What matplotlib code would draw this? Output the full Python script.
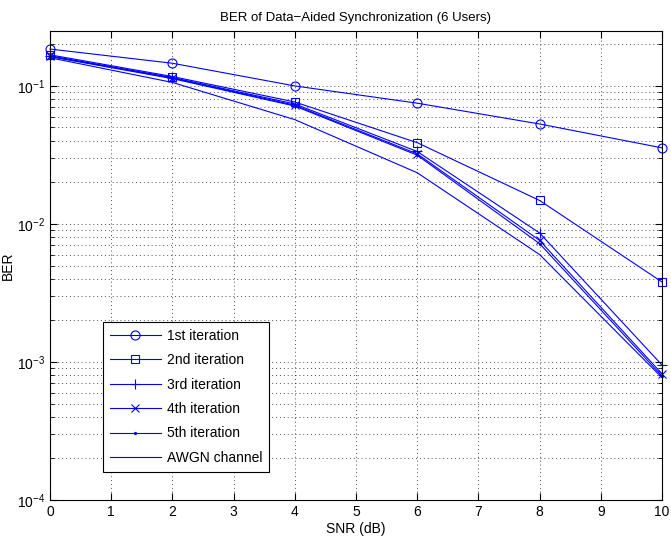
import numpy as np
import matplotlib
matplotlib.use("Agg")
from matplotlib import pyplot as plt
from matplotlib.ticker import LogLocator, NullFormatter

plt.rcParams['font.family'] = ['Liberation Sans', 'DejaVu Sans']
plt.rcParams['mathtext.fontset'] = 'custom'
plt.rcParams['mathtext.rm'] = 'Liberation Sans'
plt.rcParams['mathtext.it'] = 'Liberation Sans'

snr = [0, 2, 4, 6, 8, 10]
ber_iter1 = [0.185, 0.146, 0.100, 0.075, 0.053, 0.0356]
ber_iter2 = [0.168, 0.117, 0.0765, 0.0388, 0.0148, 0.0038]
ber_iter3 = [0.165, 0.115, 0.074, 0.0335, 0.0086, 0.00095]
ber_iter4 = [0.164, 0.114, 0.0725, 0.0322, 0.0076, 0.00082]
ber_iter5 = [0.163, 0.113, 0.0715, 0.0315, 0.0072, 0.00079]
ber_awgn = [0.160, 0.106, 0.057, 0.0235, 0.0060, 0.00077]

labels = ['1st iteration', '2nd iteration', '3rd iteration',
          '4th iteration', '5th iteration', 'AWGN channel']
series = [ber_iter1, ber_iter2, ber_iter3, ber_iter4, ber_iter5, ber_awgn]
markers = ['o', 's', '+', 'x', '.', 'None']
msizes = [6.5, 5.5, 7, 5.5, 3, 0]

fig = plt.figure(figsize=(6.71, 5.42), dpi=100)
ax = fig.add_axes([50 / 671, 42 / 542, 612 / 671, 469 / 542])

for y, lab, m, ms in zip(series, labels, markers, msizes):
    ax.semilogy(snr, y, color='b', marker=m, markersize=ms, linewidth=0.8,
                markerfacecolor='none', markeredgecolor='b',
                markeredgewidth=0.8, label=lab, clip_on=False)

ax.set_xlim(0, 10)
ax.set_ylim(1e-4, 0.25)
ax.set_xticks(range(0, 11))
ax.yaxis.set_major_locator(LogLocator(base=10, numticks=10))
ax.yaxis.set_minor_locator(LogLocator(base=10, subs=np.arange(2, 10), numticks=20))
ax.yaxis.set_minor_formatter(NullFormatter())

dots = (0, (1, 3))
ax.grid(True, which='major', linestyle=dots, color='k', linewidth=0.7, alpha=0.7)
ax.grid(True, which='minor', axis='y', linestyle=dots, color='k', linewidth=0.7, alpha=0.7)
ax.tick_params(which='both', direction='in', top=True, right=True, labelsize=10)
ax.tick_params(which='major', length=5)
ax.tick_params(which='minor', length=3)
for s in ax.spines.values():
    s.set_linewidth(0.8)

ax.set_xlabel('SNR (dB)', fontsize=10, labelpad=2)
ax.set_ylabel('BER', fontsize=10)
ax.yaxis.set_label_coords(-0.058, 0.5)
ax.set_title('BER of Data\u2212Aided Synchronization (6 Users)', fontsize=9.5, pad=7)

leg = ax.legend(loc='lower left', bbox_to_anchor=(0.086, 0.06), fontsize=10,
                fancybox=False, framealpha=1, edgecolor='k', handlelength=3.7,
                handletextpad=0.4, borderpad=0.5, labelspacing=0.75,
                borderaxespad=0)
leg.get_frame().set_linewidth(0.8)

fig.savefig('out.png', dpi=100)
